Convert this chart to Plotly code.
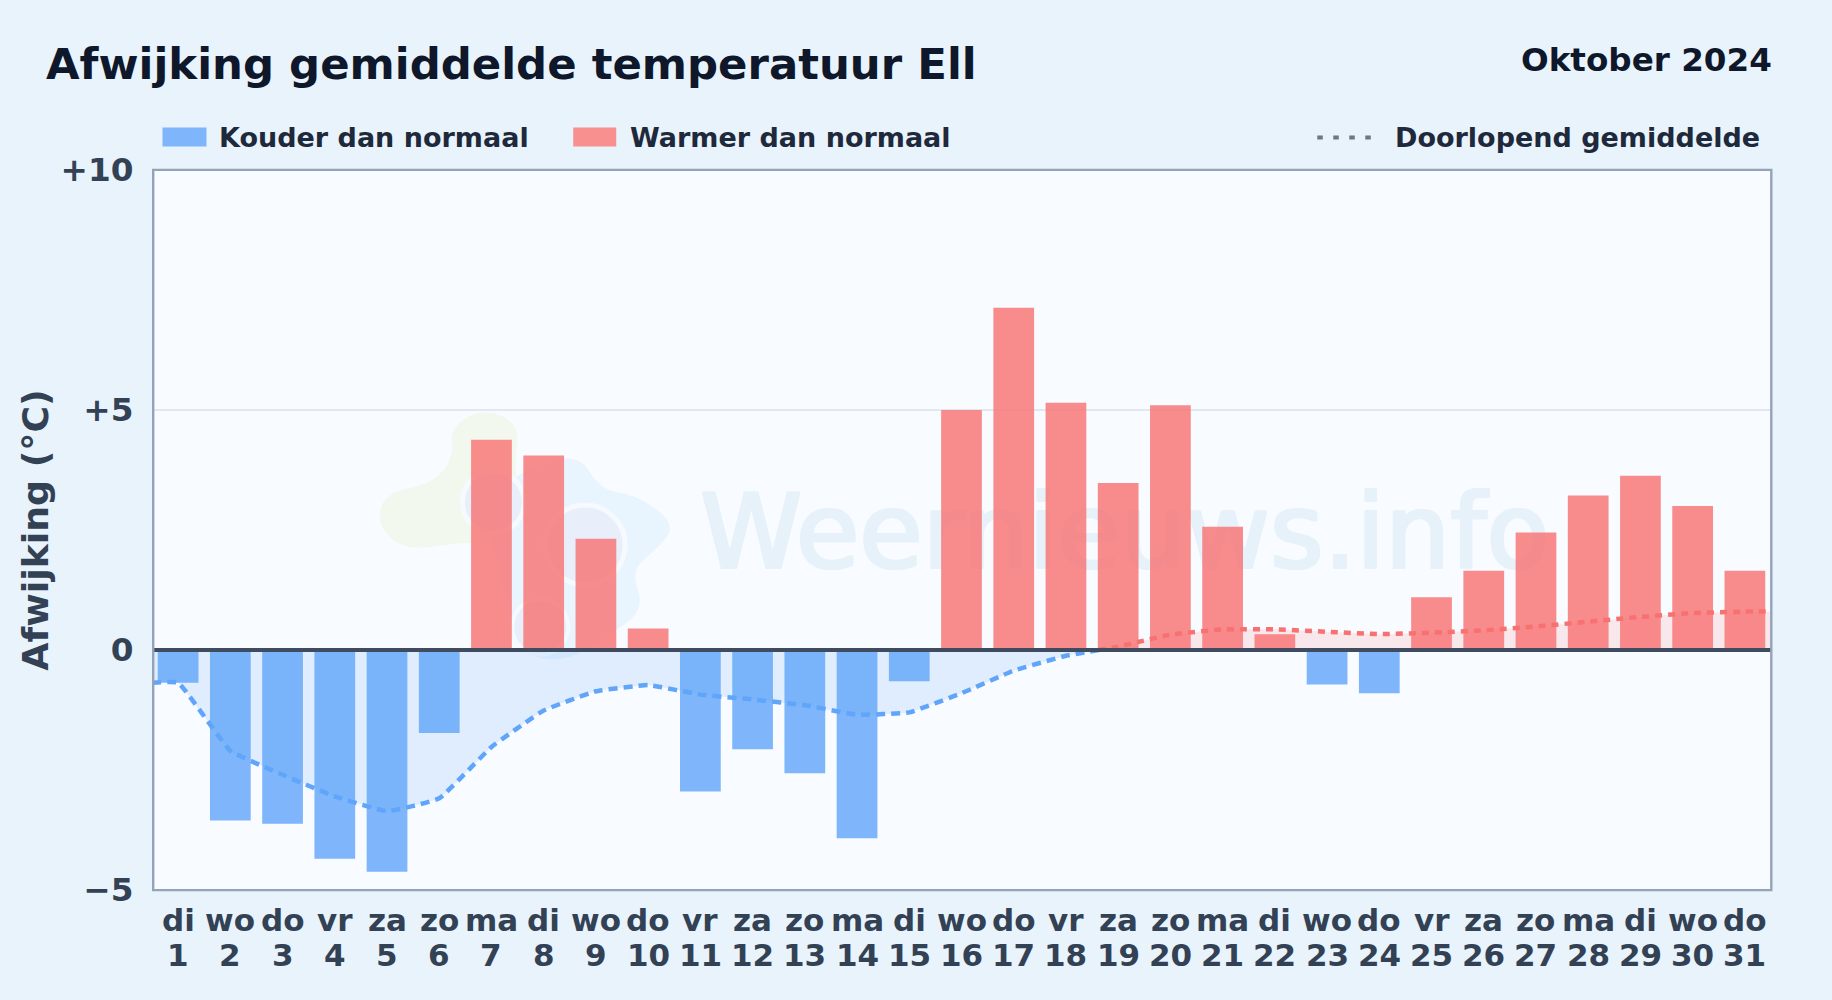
import base64
import plotly.graph_objects as go

WEEKDAYS = ["di","wo","do","vr","za","zo","ma","di","wo","do","vr","za","zo","ma","di","wo","do","vr","za","zo","ma","di","wo","do","vr","za","zo","ma","di","wo","do"]
DAYS = list(range(1, 32))
ANOMALY = [-0.68,-3.55,-3.62,-4.35,-4.62,-1.73,4.38,4.05,2.32,0.45,-2.95,-2.07,-2.57,-3.92,-0.65,5.0,7.13,5.15,3.48,5.1,2.57,0.33,-0.72,-0.9,1.1,1.65,2.45,3.22,3.63,3.0,1.65]
RUN_X_COLD = [0.5,1,2,3,4,5,6,7,8,9,10,11,12,13,14,15,16,17,18,18.63]
RUN_Y_COLD = [-0.68,-0.68,-2.1,-2.6,-3.05,-3.36,-3.09,-2.02,-1.26,-0.86,-0.73,-0.93,-1.03,-1.15,-1.35,-1.3,-0.9,-0.43,-0.12,0]
RUN_X_WARM = [18.63,19,20,21,22,23,24,25,26,27,28,29,30,31,31.5]
RUN_Y_WARM = [0,0.07,0.32,0.43,0.43,0.38,0.33,0.36,0.41,0.49,0.59,0.69,0.77,0.8,0.8]
Y_TICKS = [-5,0,5,10]
Y_LABELS = ["−5","0","+5","+10"]

W, H = 1832, 1000
L, R, T, B = 151.5, 1771.5, 169.5, 890.5
FONT = "DejaVu Sans"
BLUE, RED = "#60a5fa", "#f87171"
INK, SLATE = "#0f172a", "#334155"

def px(x): return (x - L) / (R - L)
def py(y): return (B - y) / (B - T)

def blob(pts):
    n = len(pts)
    mid = lambda a, b: ((a[0]+b[0])/2, (a[1]+b[1])/2)
    s = mid(pts[-1], pts[0])
    d = f"M{s[0]:.1f},{s[1]:.1f} "
    for i, p in enumerate(pts):
        m = mid(p, pts[(i+1) % n])
        d += f"Q{p[0]:.1f},{p[1]:.1f} {m[0]:.1f},{m[1]:.1f} "
    return d + "Z"

def z(p): return (p[0]/3, p[1]/3)
green = [z(p) for p in [(300,140),(400,85),(510,130),(490,270),(520,420),(500,520),(360,480),(170,515),(80,440),(100,340),(250,310),(310,230)]]
blue = [z(p) for p in [(560,250),(690,225),(750,330),(860,345),(975,430),(930,500),(840,570),(885,690),(770,770),(640,850),(500,820),(480,680),(420,480),(420,340)]]
svg = f'''<svg xmlns="http://www.w3.org/2000/svg" width="400" height="300" viewBox="0 0 400 300">
<path d="{blob(green)}" fill="#f2f8ee"/>
<path d="{blob(blue)}" fill="#e8f4fe"/>
<circle cx="143" cy="122" r="31" fill="#e8effb" stroke="#f6fafe" stroke-width="5"/>
<circle cx="235" cy="165" r="40" fill="#e8effb" stroke="#f6fafe" stroke-width="5"/>
<circle cx="190" cy="247" r="28" fill="#e8effb" stroke="#f6fafe" stroke-width="4"/>
</svg>'''
logo = "data:image/svg+xml;base64," + base64.b64encode(svg.encode()).decode()

fig = go.Figure()
cold_x = [d for d, v in zip(DAYS, ANOMALY) if v < 0]
cold_y = [v for v in ANOMALY if v < 0]
warm_x = [d for d, v in zip(DAYS, ANOMALY) if v >= 0]
warm_y = [v for v in ANOMALY if v >= 0]
fig.add_bar(x=cold_x, y=cold_y, width=0.78, marker=dict(color="rgba(96,165,250,0.8)", line_width=0), name="Kouder dan normaal")
fig.add_bar(x=warm_x, y=warm_y, width=0.78, marker=dict(color="rgba(248,113,113,0.8)", line_width=0), name="Warmer dan normaal")
fig.add_scatter(x=RUN_X_COLD, y=RUN_Y_COLD, mode="lines", fill="tozeroy", fillcolor="rgba(96,165,250,0.16)",
                line=dict(color=BLUE, width=4.5, dash="9px,6px", shape="spline", smoothing=0.3), name="Doorlopend gemiddelde")
fig.add_scatter(x=RUN_X_WARM, y=RUN_Y_WARM, mode="lines", fill="tozeroy", fillcolor="rgba(248,113,113,0.14)",
                line=dict(color=RED, width=4.5, dash="7px,6px", shape="spline", smoothing=0.3), name="Doorlopend gemiddelde (warm)")

shapes = []
for dx, dy in [(-1.5,-1),(1.5,-1),(-1.5,1),(1.5,1),(0,0)]:
    shapes.append(dict(type="rect", xref="paper", yref="paper", x0=px(640+dx), x1=px(1610+dx), y0=py(475+dy), y1=py(575+dy), layer="below",
         line_width=0, fillcolor="rgba(0,0,0,0)",
         label=dict(text="Weernieuws.info", textposition="middle center",
                    font=dict(family=FONT, size=103, color="#e7f1fa"))))
shapes += [
    dict(type="line", xref="x", yref="y", x0=0.5, x1=31.5, y0=0, y1=0, line=dict(color="#3f4b5e", width=4), layer="above"),
    dict(type="rect", xref="paper", yref="paper", x0=px(152.7), x1=px(1771.8), y0=py(890.6), y1=py(169.4), fillcolor="rgba(0,0,0,0)",
         line=dict(color="#94a3b8", width=2.4), layer="above"),
    dict(type="rect", xref="paper", yref="paper", x0=px(162), x1=px(206), y0=py(127), y1=py(146), line_width=0, fillcolor="#7fb5fb"),
    dict(type="rect", xref="paper", yref="paper", x0=px(573), x1=px(616), y0=py(127), y1=py(146), line_width=0, fillcolor="#f99090"),
    dict(type="line", xref="paper", yref="paper", x0=px(1317.5), x1=px(1373), y0=py(137), y1=py(137),
         line=dict(color="#6b7785", width=4, dash="5.5px,10.5px")),
]
def note(text, x, y, size, color, anchor="left"):
    return dict(text=text, x=px(x), y=py(y), xref="paper", yref="paper", showarrow=False, xanchor=anchor, yanchor="middle",
                font=dict(family=FONT, size=size, color=color), borderpad=0, borderwidth=0)
annotations = [
    note("<b>Afwijking gemiddelde temperatuur Ell</b>", 45.5, 63, 43.4, INK),
    note("<b>Oktober 2024</b>", 1773, 59, 32.6, INK, "right"),
    note("<b>Kouder dan normaal</b>", 219, 137, 27, "#1e293b"),
    note("<b>Warmer dan normaal</b>", 630, 137, 27, "#1e293b"),
    note("<b>Doorlopend gemiddelde</b>", 1760, 137, 27, "#1e293b", "right"),
]
for d, wd in zip(DAYS, WEEKDAYS):
    annotations.append(dict(text=f"<b>{wd}</b>", x=d, y=py(921), xref="x", yref="paper", showarrow=False, yanchor="middle",
                            font=dict(family=FONT, size=31, color=SLATE), borderpad=0))
    annotations.append(dict(text=f"<b>{d}</b>", x=d, y=py(956), xref="x", yref="paper", showarrow=False, yanchor="middle",
                            font=dict(family=FONT, size=31, color=SLATE), borderpad=0))
fig.update_layout(
    width=W, height=H, paper_bgcolor="#e8f3fc", plot_bgcolor="#f8fbff",
    margin=dict(l=L, r=W-R, t=T, b=H-B, pad=0), barmode="overlay", showlegend=False,
    font=dict(family=FONT, color=SLATE),
    shapes=shapes, annotations=annotations,
    images=[dict(source=logo, xref="paper", yref="paper", x=px(350), y=py(380), sizex=400/(R-L), sizey=300/(B-T),
                 xanchor="left", yanchor="top", sizing="stretch", layer="below", opacity=1)],
    xaxis=dict(range=[0.5,31.5], tickmode="array", tickvals=DAYS, showticklabels=False,
               ticks="", showgrid=False, zeroline=False, showline=False),
    yaxis=dict(range=[-5,10], tickmode="array", tickvals=Y_TICKS, ticktext=[f"<b>{t}</b>" for t in Y_LABELS],
               tickfont=dict(family=FONT, size=32.7, color=SLATE), ticks="outside", ticklen=11, tickcolor="rgba(0,0,0,0)",
               gridcolor="#e2e8f0", gridwidth=1.5, zeroline=False, showline=False,
               title=dict(text="<b>Afwijking (°C)</b>", font=dict(family=FONT, size=36.3, color=SLATE), standoff=0)),
)
fig.write_html("out.html", config={"displayModeBar": False}, post_script="document.body.style.margin='0';document.body.style.background='#e8f3fc';")
